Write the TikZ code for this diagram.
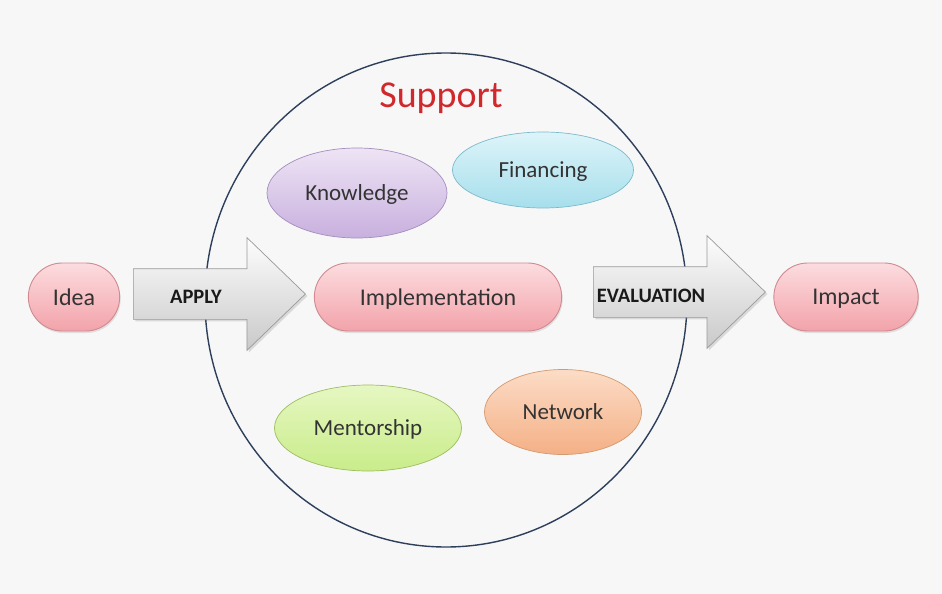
\documentclass[tikz,border=0pt]{standalone}
\usepackage{fontspec}
\setmainfont{Carlito}
\usetikzlibrary{shapes.misc,shapes.geometric,shapes.arrows,shadows}

\definecolor{backgray}{HTML}{F7F7F7}
\definecolor{ringblue}{HTML}{2E3F5C}
\definecolor{supportred}{HTML}{D0282C}
\definecolor{pilltop}{HTML}{FCDCDF}
\definecolor{pillbot}{HTML}{F2A3AA}
\definecolor{pillline}{HTML}{D08A90}
\definecolor{knowtop}{HTML}{EEE4F5}
\definecolor{knowbot}{HTML}{C8B0DE}
\definecolor{knowline}{HTML}{A48EBE}
\definecolor{fintop}{HTML}{DDF4F9}
\definecolor{finbot}{HTML}{A6DFEC}
\definecolor{finline}{HTML}{7DBACB}
\definecolor{mentop}{HTML}{E6F7C2}
\definecolor{menbot}{HTML}{C9EC8A}
\definecolor{menline}{HTML}{9DBE62}
\definecolor{nettop}{HTML}{FCDCC6}
\definecolor{netbot}{HTML}{F4B086}
\definecolor{netline}{HTML}{D39970}
\definecolor{arrowtop}{HTML}{FDFDFD}
\definecolor{arrowbot}{HTML}{C9C9C9}
\definecolor{arrowline}{HTML}{9A9A9A}

\tikzset{
  pill/.style={rounded rectangle, draw=pillline, line width=0.9pt,
    top color=pilltop, bottom color=pillbot, minimum height=68pt,
    text=black!80, font=\fontsize{24}{24}\selectfont, text depth=0pt,
    drop shadow={opacity=0.2, shadow xshift=1pt, shadow yshift=-2pt}},
  blob/.style={ellipse, line width=0.7pt, inner sep=0pt, text depth=0pt,
    text=black!80, font=\fontsize{23}{23}\selectfont},
  bigarrow/.style={single arrow, draw=arrowline, line width=0.7pt,
    top color=arrowtop, bottom color=arrowbot,
    single arrow tip angle=88, single arrow head extend=31pt,
    inner xsep=0pt, inner ysep=25pt, anchor=tail,
    drop shadow={opacity=0.25, shadow xshift=2pt, shadow yshift=-2pt}},
  arrowtext/.style={font=\fontsize{20.5}{20.5}\selectfont\bfseries, text=black!90}
}

\begin{document}
\begin{tikzpicture}[x=1pt,y=-1pt]
\useasboundingbox (0,0) rectangle (942,594);
\fill[backgray] (0,0) rectangle (942,594);

% support ring
\draw[ringblue,line width=1.4pt] (446,300) ellipse (241 and 247);
\node[text=supportred,font=\fontsize{38}{38}\selectfont] (support) at (441,98) {Support};

% the chain
\node[pill,minimum width=98pt] (idea) at (74,297) {Idea};
\node[bigarrow,minimum height=172pt] (apply) at (133,294) {};
\node[arrowtext] (applytext) at (196,297) {APPLY};
\node[pill,minimum width=254pt] (impl) at (438,297) {Implementation};
\node[bigarrow,minimum height=172pt] (evaluation) at (593,292) {};
\node[arrowtext] (evaltext) at (651,296) {EVALUATION};
\node[pill,minimum width=151pt] (impact) at (846,297) {Impact};

% support items
\node[blob,draw=knowline,top color=knowtop,bottom color=knowbot,
  minimum width=180pt,minimum height=90pt] (knowledge) at (357,193) {Knowledge};
\node[blob,draw=finline,top color=fintop,bottom color=finbot,
  minimum width=181pt,minimum height=76pt] (financing) at (543,170) {Financing};
\node[blob,draw=menline,top color=mentop,bottom color=menbot,
  minimum width=187pt,minimum height=86pt] (mentorship) at (368,428) {Mentorship};
\node[blob,draw=netline,top color=nettop,bottom color=netbot,
  minimum width=157pt,minimum height=85pt] (network) at (563,412) {Network};
\end{tikzpicture}
\end{document}
